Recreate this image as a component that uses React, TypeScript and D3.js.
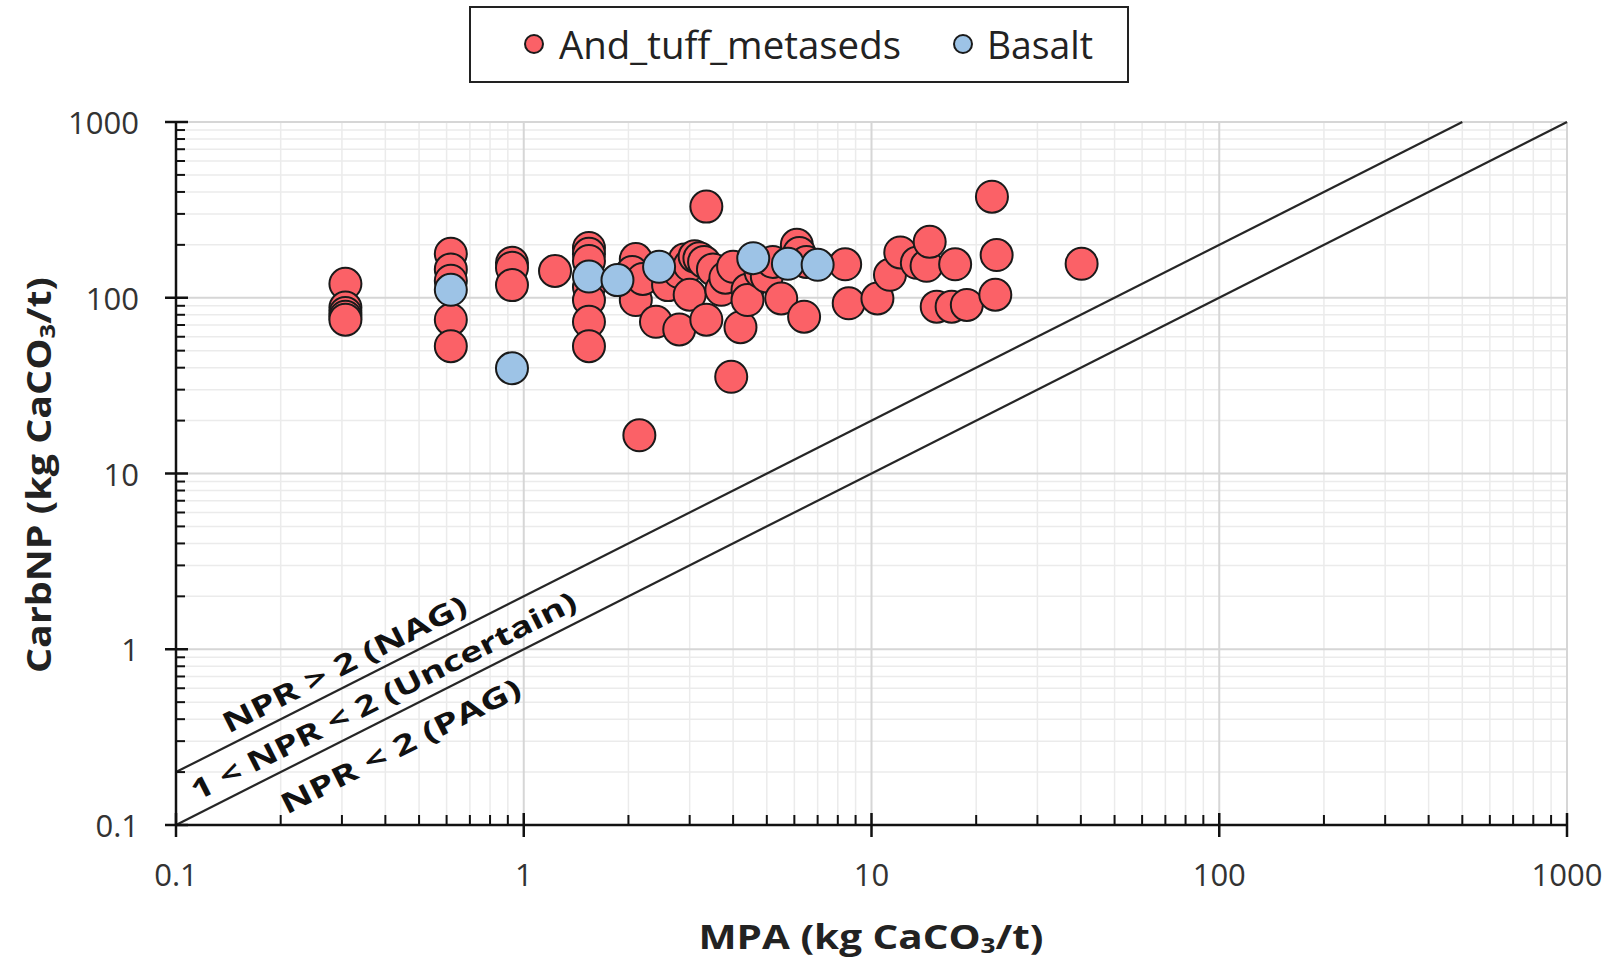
import React from 'react'
import * as d3 from 'd3'

// And_tuff_metaseds samples: [MPA, CarbNP]
const andTuff: [number, number][] = [
  [0.307, 120], [0.307, 88], [0.307, 82], [0.307, 78], [0.307, 75],
  [0.617, 178], [0.617, 145], [0.617, 125], [0.617, 75], [0.617, 53],
  [0.925, 158], [0.925, 148], [0.925, 118],
  [1.23, 142],
  [1.54, 192], [1.54, 178], [1.54, 162], [1.54, 115], [1.54, 97], [1.54, 73], [1.54, 53],
  [2.1, 166], [2.1, 97], [2.05, 140], [2.2, 128], [2.15, 16.5], [2.4, 73], [2.6, 118],
  [2.8, 66], [2.8, 140], [2.9, 165], [3.0, 153], [3.0, 104], [3.1, 172], [3.2, 168],
  [3.3, 160], [3.35, 330], [3.35, 75], [3.5, 145], [3.7, 111], [3.8, 130], [3.95, 35.5],
  [4.0, 150], [4.2, 68], [4.4, 111], [4.4, 97], [4.8, 140], [5.0, 132], [5.2, 160],
  [5.5, 99], [6.1, 200], [6.2, 180], [6.4, 78], [6.5, 160],
  [8.4, 155], [8.6, 93], [10.4, 99], [11.3, 135], [12.1, 181], [13.5, 158], [14.4, 152],
  [14.7, 208], [15.4, 89], [17.0, 89], [17.4, 155], [18.8, 91],
  [22.2, 376], [22.9, 175], [22.7, 104], [40.2, 156],
]

// Basalt samples: [MPA, CarbNP]
const basalt: [number, number][] = [
  [0.617, 111], [0.925, 39.7], [1.54, 132], [1.86, 126], [2.45, 150], [4.57, 168], [5.75, 156], [7.0, 154],
]

const decades = [0.1, 1, 10, 100, 1000]
const tickLabels = ['0.1', '1', '10', '100', '1000']
const npr = [1, 2]

const FONT = '"Open Sans", "Noto Sans", sans-serif'
const RED = '#fb6167'
const BLUE = '#9dc3e6'

export default function App() {
  const W = 1613
  const H = 961
  const x = d3.scaleLog().domain([0.1, 1000]).range([176, 1567])
  const y = d3.scaleLog().domain([0.1, 1000]).range([825, 122])

  const minors: number[] = []
  decades.slice(0, -1).forEach(d => {
    for (let k = 2; k <= 9; k++) minors.push(d * k)
  })

  const angle = (Math.atan2(y(1) - y(10), x(10) - x(1)) * 180) / Math.PI

  const lineFor = (r: number) => {
    const xEnd = Math.min(1000, 1000 / r)
    return { x1: x(0.1), y1: y(0.1 * r), x2: x(xEnd), y2: y(xEnd * r) }
  }

  const labels = [
    { text: 'NPR > 2 (NAG)', mx: 0.304, my: 0.835, len: 270 },
    { text: '1 < NPR < 2 (Uncertain)', mx: 0.394, my: 0.549, len: 428 },
    { text: 'NPR < 2 (PAG)', mx: 0.441, my: 0.285, len: 265 },
  ]

  const dot = (d: [number, number], i: number, fill: string) => (
    <circle key={i} cx={x(d[0])} cy={y(d[1])} r={16} fill={fill} stroke="#1a1a1a" strokeWidth={2} />
  )

  return (
    <svg width={W} height={H} style={{ position: 'absolute', left: 0, top: 0, background: '#fff' }} fontFamily={FONT}>
      {/* grid */}
      {minors.map(v => (
        <g key={'m' + v}>
          <line x1={x(v)} x2={x(v)} y1={y(1000)} y2={y(0.1)} stroke="#ebebeb" strokeWidth={1.5} />
          <line x1={x(0.1)} x2={x(1000)} y1={y(v)} y2={y(v)} stroke="#ebebeb" strokeWidth={1.5} />
        </g>
      ))}
      {decades.map(v => (
        <g key={'M' + v}>
          <line x1={x(v)} x2={x(v)} y1={y(1000)} y2={y(0.1)} stroke="#d6d6d6" strokeWidth={2} />
          <line x1={x(0.1)} x2={x(1000)} y1={y(v)} y2={y(v)} stroke="#d6d6d6" strokeWidth={2} />
        </g>
      ))}

      {/* NPR lines */}
      {npr.map(r => {
        const l = lineFor(r)
        return <line key={'npr' + r} {...l} stroke="#262626" strokeWidth={2.2} />
      })}
      {labels.map(l => (
        <text key={l.text} transform={`translate(${x(l.mx)},${y(l.my)}) rotate(${-angle})`}
          textAnchor="middle" dominantBaseline="central" fontWeight={700} fontSize={28}
          fill="#111" textLength={l.len} lengthAdjust="spacingAndGlyphs">{l.text}</text>
      ))}

      {/* axes */}
      <line x1={x(0.1)} x2={x(0.1)} y1={y(1000)} y2={y(0.1)} stroke="#111" strokeWidth={2.5} />
      <line x1={x(0.1)} x2={x(1000)} y1={y(0.1)} y2={y(0.1)} stroke="#111" strokeWidth={2.5} />
      {minors.map(v => (
        <g key={'t' + v}>
          <line x1={x(0.1)} x2={x(0.1) + 9} y1={y(v)} y2={y(v)} stroke="#111" strokeWidth={2} />
          <line x1={x(v)} x2={x(v)} y1={y(0.1)} y2={y(0.1) - 10} stroke="#111" strokeWidth={2} />
        </g>
      ))}
      {decades.map((v, i) => (
        <g key={'T' + v}>
          <line x1={x(0.1) - 11} x2={x(0.1) + 12} y1={y(v)} y2={y(v)} stroke="#111" strokeWidth={2.5} />
          <line x1={x(v)} x2={x(v)} y1={y(0.1) - 12} y2={y(0.1) + 12} stroke="#111" strokeWidth={2.5} />
          <text x={139} y={y(v)} textAnchor="end" dominantBaseline="central" fontSize={31} fill="#333">{tickLabels[i]}</text>
          <text x={x(v)} y={874} textAnchor="middle" dominantBaseline="central" fontSize={31} fill="#333">{tickLabels[i]}</text>
        </g>
      ))}

      {/* points */}
      <g>{andTuff.map((d, i) => dot(d, i, RED))}</g>
      <g>{basalt.map((d, i) => dot(d, i, BLUE))}</g>

      {/* axis titles */}
      <text x={871} y={936} textAnchor="middle" dominantBaseline="central" fontWeight={700} fontSize={34}
        fill="#222" textLength={345} lengthAdjust="spacingAndGlyphs">
        MPA (kg CaCO<tspan fontSize={22} dy={8}>3</tspan><tspan dy={-8}>/t)</tspan>
      </text>
      <text transform="translate(38,475) rotate(-90)" textAnchor="middle" dominantBaseline="central" fontWeight={700}
        fontSize={34} fill="#222" textLength={396} lengthAdjust="spacingAndGlyphs">
        CarbNP (kg CaCO<tspan fontSize={22} dy={8}>3</tspan><tspan dy={-8}>/t)</tspan>
      </text>

      {/* legend */}
      <rect x={470} y={7} width={658} height={75} fill="#fff" stroke="#222" strokeWidth={2} />
      <circle cx={534} cy={44} r={9} fill={RED} stroke="#1a1a1a" strokeWidth={2} />
      <text x={559} y={44} dominantBaseline="central" fontSize={38} fill="#222" textLength={342} lengthAdjust="spacingAndGlyphs">And_tuff_metaseds</text>
      <circle cx={963} cy={44} r={9} fill={BLUE} stroke="#1a1a1a" strokeWidth={2} />
      <text x={987} y={44} dominantBaseline="central" fontSize={38} fill="#222" textLength={106} lengthAdjust="spacingAndGlyphs">Basalt</text>
    </svg>
  )
}
